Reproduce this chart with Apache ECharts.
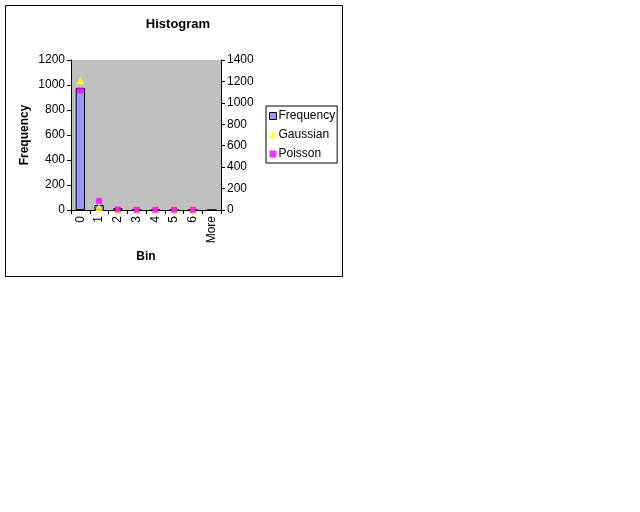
<!DOCTYPE html>
<html>
<head>
<meta charset="utf-8">
<script src="https://cdn.jsdelivr.net/npm/echarts@6/dist/echarts.min.js"></script>
<style>
  html, body { margin: 0; padding: 0; background: #fff; }
  #chart { width: 640px; height: 512px; }
</style>
</head>
<body>
<div id="chart"></div>
<script>
// bins and values
const bins = ['0', '1', '2', '3', '4', '5', '6', 'More']
const frequency = [975, 40, 15, 0, 0, 0, 0, 0]
// Gaussian / Poisson sit on the secondary (right) axis
const gaussian = [1210, 25, 0, 0, 0, 0, 0, null]
const poisson = [1115, 85, 5, 2, 2, 2, 2, null]
const leftTicks = [0, 1200, 200]
const rightTicks = [0, 1400, 200]

const font = 'Liberation Sans, Arial, sans-serif'
const myChart = echarts.init(document.getElementById('chart'), null, { renderer: 'canvas' })

const plain = function (v) { return String(v) }

const option = {
  animation: false,
  backgroundColor: '#fff',
  textStyle: { fontFamily: font },
  title: {
    text: 'Histogram',
    left: 173,
    top: 13,
    textAlign: 'center',
    textStyle: { fontSize: 13, fontWeight: 'bold', color: '#000', fontFamily: font }
  },
  graphic: [
    { // outer chart border
      type: 'rect',
      shape: { x: 5.5, y: 5.5, width: 337, height: 271 },
      style: { fill: null, stroke: '#000', lineWidth: 1 },
      z: -1
    }
  ],
  legend: {
    orient: 'vertical',
    left: 266,
    top: 106,
    padding: [4, 2, 3, 3],
    borderColor: '#000',
    borderWidth: 1,
    itemWidth: 7,
    itemHeight: 7,
    itemGap: 7,
    textStyle: { fontSize: 12, color: '#000', fontFamily: font, padding: [0, 0, 0, -3] },
    data: [
      { name: 'Frequency', icon: 'rect', itemStyle: { borderWidth: 1 } },
      { name: 'Gaussian', icon: 'triangle' },
      { name: 'Poisson', icon: 'rect' }
    ]
  },
  grid: {
    left: 71,
    right: 419,
    top: 60,
    bottom: 302,
    show: true,
    backgroundColor: '#C0C0C0',
    borderWidth: 0
  },
  xAxis: {
    type: 'category',
    data: bins,
    boundaryGap: true,
    name: 'Bin',
    nameLocation: 'middle',
    nameGap: 41,
    nameTextStyle: { fontSize: 12, fontWeight: 'bold', color: '#000', fontFamily: font },
    axisLine: { lineStyle: { color: '#000', width: 1 } },
    axisTick: { show: true, alignWithLabel: false, length: 4, lineStyle: { color: '#000' } },
    axisLabel: { rotate: 90, fontSize: 12, color: '#000', margin: 6, fontFamily: font, interval: 0 },
    splitLine: { show: false }
  },
  yAxis: [
    {
      type: 'value',
      min: leftTicks[0],
      max: leftTicks[1],
      interval: leftTicks[2],
      name: 'Frequency',
      nameLocation: 'middle',
      nameGap: 40,
      nameRotate: 90,
      nameTextStyle: { fontSize: 12, fontWeight: 'bold', color: '#000', fontFamily: font },
      axisLine: { show: true, lineStyle: { color: '#000' } },
      axisTick: { show: true, inside: false, length: 4, lineStyle: { color: '#000' } },
      axisLabel: { fontSize: 12, color: '#000', margin: 6, fontFamily: font, formatter: plain },
      splitLine: { show: false }
    },
    {
      type: 'value',
      position: 'right',
      min: rightTicks[0],
      max: rightTicks[1],
      interval: rightTicks[2],
      axisLine: { show: true, lineStyle: { color: '#000' } },
      axisTick: { show: true, inside: false, length: 4, lineStyle: { color: '#000' } },
      axisLabel: { fontSize: 12, color: '#000', margin: 6, fontFamily: font, formatter: plain },
      splitLine: { show: false }
    }
  ],
  series: [
    {
      name: 'Frequency',
      type: 'bar',
      yAxisIndex: 0,
      barWidth: '50%',
      data: frequency,
      itemStyle: { color: '#9999FF', borderColor: '#000', borderWidth: 1 }
    },
    {
      name: 'Gaussian',
      type: 'scatter',
      yAxisIndex: 1,
      symbol: 'triangle',
      symbolSize: 8,
      data: gaussian,
      itemStyle: { color: '#FFFF00' },
      z: 3
    },
    {
      name: 'Poisson',
      type: 'scatter',
      yAxisIndex: 1,
      symbol: 'rect',
      symbolSize: 6,
      data: poisson,
      itemStyle: { color: '#FF00FF' },
      z: 4
    }
  ]
}
myChart.setOption(option)
</script>
</body>
</html>
